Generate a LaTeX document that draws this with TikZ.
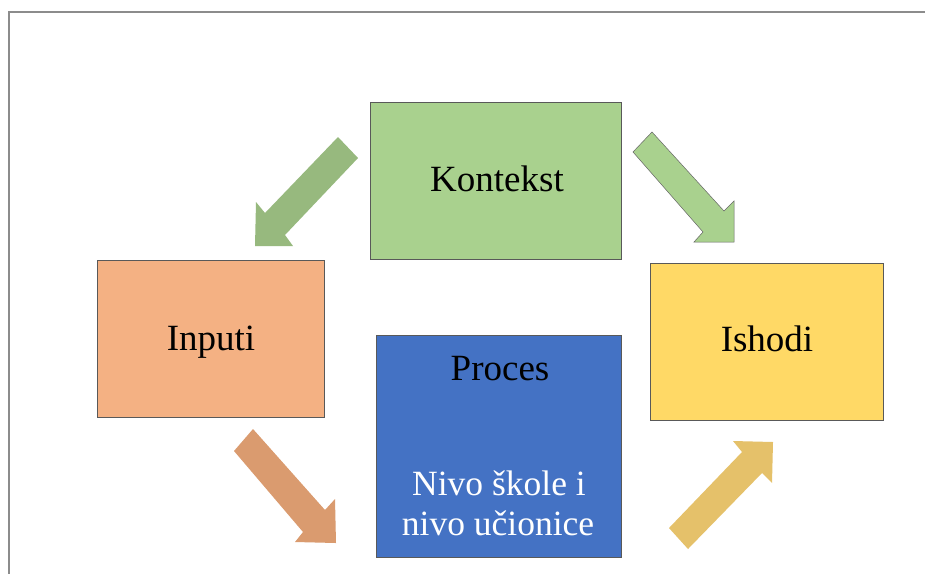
\documentclass[tikz,border=0pt]{standalone}
\usepackage{fontspec}
\setmainfont{Liberation Serif}
\definecolor{kgreen}{HTML}{A9D18E}
\definecolor{kgreendark}{HTML}{97B97E}
\definecolor{iorange}{HTML}{F4B183}
\definecolor{aorange}{HTML}{DA9B6F}
\definecolor{iyellow}{HTML}{FFD966}
\definecolor{ayellow}{HTML}{E5C16A}
\definecolor{pblue}{HTML}{4472C4}
\definecolor{frame}{HTML}{8C8C8C}
\tikzset{
  box/.style={draw=black!65, line width=0.7pt, inner sep=0pt},
  lbl/.style={font=\fontsize{37}{40}\selectfont, anchor=base, inner sep=0pt},
  wlbl/.style={font=\fontsize{35.5}{40}\selectfont, anchor=base, inner sep=0pt, text=white},
}
\begin{document}
\begin{tikzpicture}[x=1pt,y=-1pt]
\useasboundingbox (0,0) rectangle (925,574);
\fill[white] (0,0) rectangle (925,574);
\draw[frame, line width=1.2pt] (925,12) -- (9,12) -- (9,574);
% boxes
\node[box, fill=kgreen, minimum width=251pt, minimum height=157pt] (kontekst) at (495.5,180.5) {};
\node[box, fill=iorange, minimum width=227pt, minimum height=157pt] (inputi) at (210.5,338.5) {};
\node[box, fill=iyellow, minimum width=233pt, minimum height=157pt] (ishodi) at (766.5,341.5) {};
\node[box, fill=pblue, minimum width=245pt, minimum height=222pt] (proces) at (498.5,446) {};
% labels
\node[lbl] (kontekstlabel) at (497,191) {Kontekst};
\node[lbl] (inputilabel) at (211,350) {Inputi};
\node[lbl] (ishodilabel) at (767,351) {Ishodi};
\node[lbl] (proceslabel) at (500,380) {Proces};
\node[wlbl] (nivo1) at (499,495) {Nivo škole i};
\node[wlbl] (nivo2) at (498,535) {nivo učionice};
% block arrows
\fill[kgreendark] (338,137) -- (358,158) -- (285,235) -- (293,246) -- (255,246) -- (256,202) -- (265,213) -- cycle;
\filldraw[fill=kgreen, draw=black!60, line width=0.5pt] (652,132) -- (633,152) -- (703,232) -- (694,242) -- (734,242) -- (734,201) -- (724,211) -- cycle;
\fill[aorange] (253,429) -- (234,451) -- (303,532) -- (295,542) -- (336,543) -- (335,499) -- (325,510) -- cycle;
\fill[ayellow] (669,528) -- (688,549) -- (762,473) -- (772,483) -- (773,442) -- (733,441) -- (742,452) -- cycle;
\end{tikzpicture}
\end{document}
